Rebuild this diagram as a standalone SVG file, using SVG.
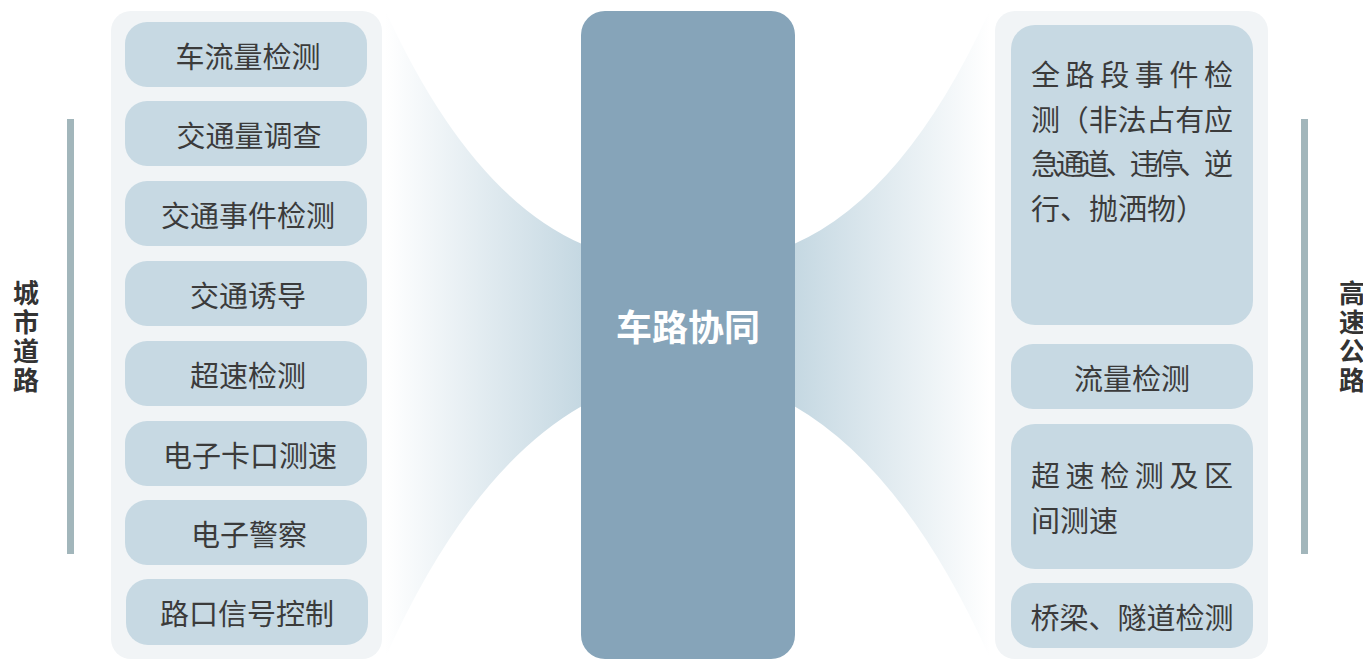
<svg xmlns="http://www.w3.org/2000/svg" width="1363" height="659" viewBox="0 0 1363 659">
<style>
.panel{fill:#f1f4f6}
.item{fill:#c7d9e3}
.t{font-family:"Noto Sans CJK SC","Noto Sans",sans-serif;font-size:29px;fill:#3b3b3b;dominant-baseline:central}
.c{text-anchor:middle}
.lab{font-family:"Noto Sans CJK SC","Noto Sans",sans-serif;font-size:26px;font-weight:bold;fill:#333;writing-mode:vertical-rl;letter-spacing:3px}
.bar{fill:#a2b6bb}
</style>
<defs>
<linearGradient id="gl" x1="385" y1="0" x2="581" y2="0" gradientUnits="userSpaceOnUse">
<stop offset="0" stop-color="#ffffff"/>
<stop offset="1" stop-color="#c5d8e2"/>
</linearGradient>
<linearGradient id="gr" x1="990" y1="0" x2="795" y2="0" gradientUnits="userSpaceOnUse">
<stop offset="0" stop-color="#ffffff"/>
<stop offset="1" stop-color="#c5d8e2"/>
</linearGradient>
</defs>
<g id="connectors">
<path d="M386,12 Q470,195 582,244 L582,406 Q470,470 386,656 Z" fill="url(#gl)"/>
<path d="M989,12 Q905,195 794,244 L794,406 Q905,470 989,656 Z" fill="url(#gr)"/>
</g>
<g id="left-panel">
<rect class="panel" x="111" y="11" width="271" height="648" rx="20"/>
</g>
<g id="n1"><rect class="item" x="125" y="22" width="242" height="65" rx="22"/><text class="t c" x="248" y="54.5">车流量检测</text></g>
<g id="n2"><rect class="item" x="125" y="101" width="242" height="65" rx="22"/><text class="t c" x="249" y="133.5">交通量调查</text></g>
<g id="n3"><rect class="item" x="125" y="181" width="242" height="65" rx="22"/><text class="t c" x="248" y="213.5">交通事件检测</text></g>
<g id="n4"><rect class="item" x="125" y="261" width="242" height="65" rx="22"/><text class="t c" x="248" y="293.5">交通诱导</text></g>
<g id="n5"><rect class="item" x="125" y="341" width="242" height="65" rx="22"/><text class="t c" x="248" y="373.5">超速检测</text></g>
<g id="n6"><rect class="item" x="125" y="421" width="242" height="65" rx="22"/><text class="t c" x="250" y="453.5">电子卡口测速</text></g>
<g id="n7"><rect class="item" x="125" y="500" width="242" height="65" rx="22"/><text class="t c" x="249" y="532.5">电子警察</text></g>
<g id="n8"><rect class="item" x="126" y="579" width="242" height="66" rx="22"/><text class="t c" x="247" y="612">路口信号控制</text></g>
<g id="left-label">
<rect class="bar" x="67" y="119" width="7" height="435"/>
<text class="lab" x="26" y="280">城市道路</text>
</g>
<g id="center">
<rect x="581" y="11" width="214" height="648" rx="24" fill="#86a4b9"/>
<text x="688" y="325" font-family="'Noto Sans CJK SC','Noto Sans',sans-serif" font-size="36" font-weight="bold" fill="#ffffff" text-anchor="middle" dominant-baseline="central">车路协同</text>
</g>
<g id="right-panel">
<rect class="panel" x="995" y="11" width="273" height="648" rx="20"/>
</g>
<g id="r1"><rect class="item" x="1011" y="25" width="242" height="300" rx="24"/>
<text class="t"><tspan x="1031" y="73" textLength="202" lengthAdjust="spacing">全路段事件检</tspan><tspan x="1031" y="118" textLength="202" lengthAdjust="spacing">测（非法占有应</tspan><tspan x="1031" y="162" textLength="202" lengthAdjust="spacing">急通道、违停、逆</tspan><tspan x="1031" y="207">行、抛洒物）</tspan></text></g>
<g id="r2"><rect class="item" x="1011" y="344" width="242" height="65" rx="22"/><text class="t c" x="1132" y="376.5">流量检测</text></g>
<g id="r3"><rect class="item" x="1011" y="424" width="242" height="145" rx="24"/>
<text class="t"><tspan x="1031" y="474" textLength="202" lengthAdjust="spacing">超速检测及区</tspan><tspan x="1031" y="519">间测速</tspan></text></g>
<g id="r4"><rect class="item" x="1011" y="583" width="242" height="65" rx="22"/><text class="t c" x="1132" y="615.5">桥梁、隧道检测</text></g>
<g id="right-label">
<rect class="bar" x="1301" y="119" width="7" height="435"/>
<text class="lab" x="1352" y="280">高速公路</text>
</g>
</svg>
